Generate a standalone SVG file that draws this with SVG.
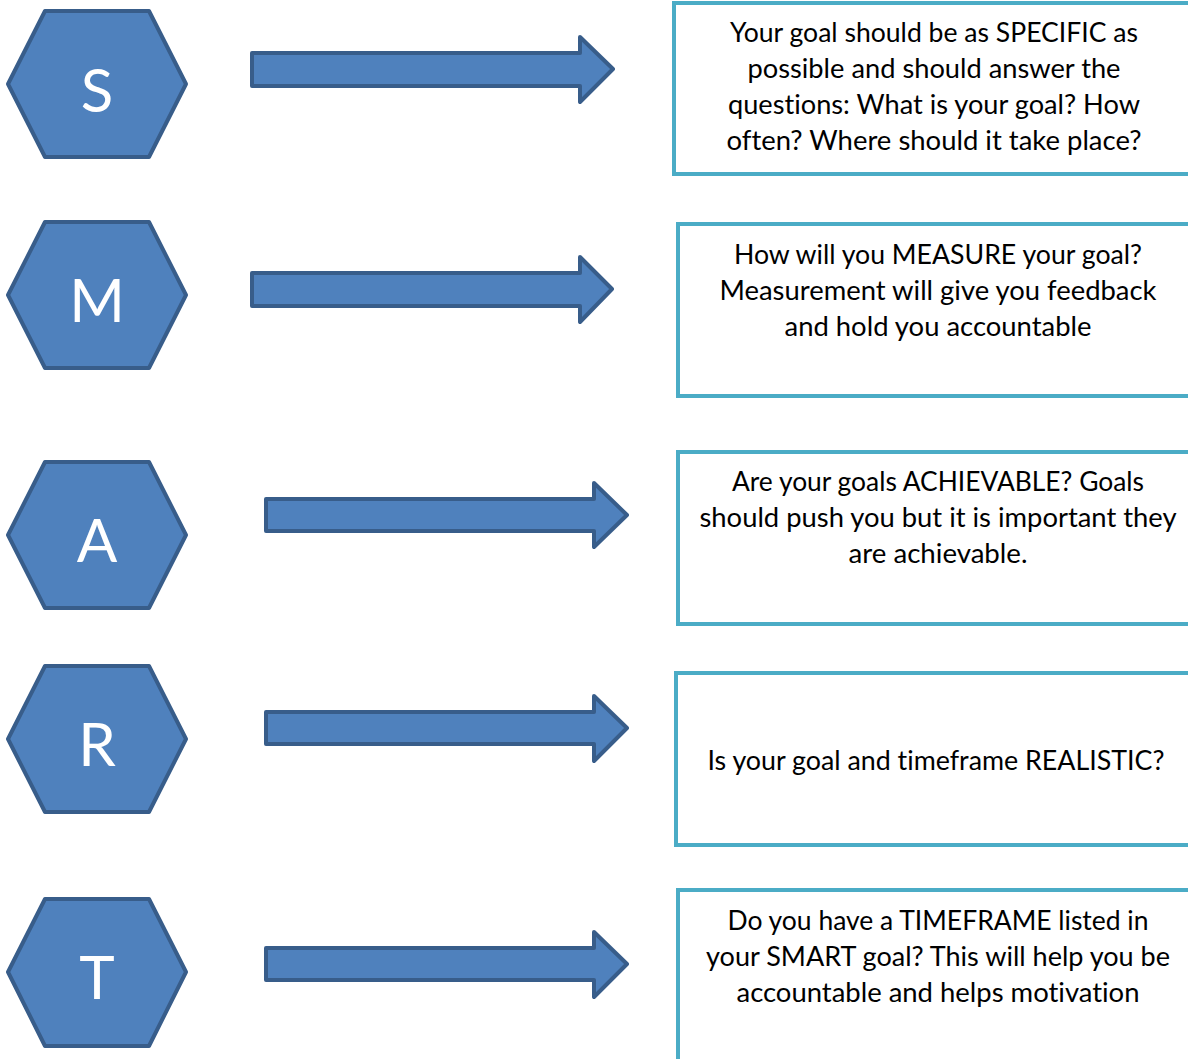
<svg xmlns="http://www.w3.org/2000/svg" width="1188" height="1059" viewBox="0 0 1188 1059">
<style>
.hex{fill:#4F81BD;stroke:#385D8A;stroke-width:4;stroke-linejoin:round}
.arr{fill:#4F81BD;stroke:#385D8A;stroke-width:4;stroke-linejoin:round}
.box{fill:#FFFFFF;stroke:#4BACC6;stroke-width:4}
.let{font-family:Lato,"Open Sans",sans-serif;font-size:60px;fill:#FFFFFF;text-anchor:middle}
.txt{font-family:Lato,"Open Sans",sans-serif;font-size:26px;fill:#000000;text-anchor:middle;font-variant-ligatures:none}
</style>
<rect width="1188" height="1059" fill="#FFFFFF"/>
<g id="hex-S"><polygon class="hex" points="45,11 149,11 186,84 149,157 45,157 8,84"/><text class="let" x="97" y="112">S</text></g>
<g id="hex-M"><polygon class="hex" points="45,222 149,222 186,295 149,368 45,368 8,295"/><text class="let" x="97" y="322">M</text></g>
<g id="hex-A"><polygon class="hex" points="45,462 149,462 186,535 149,608 45,608 8,535"/><text class="let" x="97" y="562">A</text></g>
<g id="hex-R"><polygon class="hex" points="45,666 149,666 186,739 149,812 45,812 8,739"/><text class="let" x="97" y="766">R</text></g>
<g id="hex-T"><polygon class="hex" points="45,899 149,899 186,972 149,1046 45,1046 8,972"/><text class="let" x="97" y="999">T</text></g>
<g id="connectors">
<polygon class="arr" points="252,53 580,53 580,37 613,69 580,102 580,86 252,86"/>
<polygon class="arr" points="252,273 580,273 580,257 612,289 580,322 580,306 252,306"/>
<polygon class="arr" points="266,499 594,499 594,483 627,515 594,547 594,531 266,531"/>
<polygon class="arr" points="266,712 594,712 594,696 627,728 594,761 594,744 266,744"/>
<polygon class="arr" points="266,948 594,948 594,932 627,964 594,997 594,980 266,980"/>
</g>
<g id="box-S"><rect class="box" x="674" y="3" width="530" height="171"/>
<text class="txt" x="934" y="42" textLength="408" lengthAdjust="spacingAndGlyphs">Your goal should be as SPECIFIC as</text>
<text class="txt" x="934" y="78" textLength="373" lengthAdjust="spacingAndGlyphs">possible and should answer the</text>
<text class="txt" x="934" y="114" textLength="412" lengthAdjust="spacingAndGlyphs">questions: What is your goal? How</text>
<text class="txt" x="934" y="150" textLength="415" lengthAdjust="spacingAndGlyphs">often? Where should it take place?</text></g>
<g id="box-M"><rect class="box" x="678" y="224" width="530" height="172"/>
<text class="txt" x="938" y="264" textLength="408" lengthAdjust="spacingAndGlyphs">How will you MEASURE your goal?</text>
<text class="txt" x="938" y="300" textLength="437" lengthAdjust="spacingAndGlyphs">Measurement will give you feedback</text>
<text class="txt" x="938" y="336" textLength="307" lengthAdjust="spacingAndGlyphs">and hold you accountable</text></g>
<g id="box-A"><rect class="box" x="678" y="452" width="530" height="172"/>
<text class="txt" x="938" y="491" textLength="412" lengthAdjust="spacingAndGlyphs">Are your goals ACHIEVABLE? Goals</text>
<text class="txt" x="938" y="527" textLength="477" lengthAdjust="spacingAndGlyphs">should push you but it is important they</text>
<text class="txt" x="938" y="563" textLength="179" lengthAdjust="spacingAndGlyphs">are achievable.</text></g>
<g id="box-R"><rect class="box" x="676" y="673" width="530" height="172"/>
<text class="txt" x="936" y="770" textLength="457" lengthAdjust="spacingAndGlyphs">Is your goal and timeframe REALISTIC?</text></g>
<g id="box-T"><rect class="box" x="678" y="890" width="530" height="200"/>
<text class="txt" x="938" y="930" textLength="421" lengthAdjust="spacingAndGlyphs">Do you have a TIMEFRAME listed in</text>
<text class="txt" x="938" y="966" textLength="464" lengthAdjust="spacingAndGlyphs">your SMART goal? This will help you be</text>
<text class="txt" x="938" y="1002" textLength="403" lengthAdjust="spacingAndGlyphs">accountable and helps motivation</text></g>
</svg>
